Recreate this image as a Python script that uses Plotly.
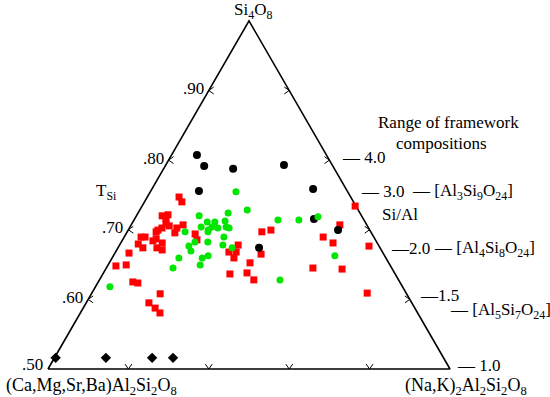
import math
import plotly.graph_objects as go

# ---------------- data (ternary fractions) ----------------
# si = fraction of Si4O8 (apex), na = fraction of (Na,K)2Al2Si2O8 (right corner);
# remainder = (Ca,Mg,Sr,Ba)Al2Si2O8 (left corner)
red_si = [0.494, 0.480, 0.440, 0.443, 0.431, 0.417, 0.411, 0.405, 0.399, 0.394,
          0.405, 0.414, 0.391, 0.388, 0.371, 0.379, 0.379, 0.359, 0.348, 0.368,
          0.374, 0.362, 0.348, 0.342, 0.333, 0.296, 0.299, 0.250, 0.247, 0.216,
          0.190, 0.175, 0.161, 0.356, 0.336, 0.336, 0.319, 0.305, 0.394, 0.399,
          0.330, 0.273, 0.276, 0.256, 0.290, 0.287, 0.362, 0.353, 0.218, 0.468,
          0.414, 0.379]
red_na = [0.079, 0.093, 0.064, 0.077, 0.078, 0.085, 0.096, 0.081, 0.074, 0.072,
          0.118, 0.129, 0.120, 0.172, 0.185, 0.042, 0.052, 0.045, 0.062, 0.077,
          0.082, 0.103, 0.097, 0.113, 0.035, 0.021, 0.045, 0.086, 0.100, 0.171,
          0.156, 0.179, 0.198, 0.295, 0.282, 0.300, 0.303, 0.350, 0.335, 0.355,
          0.365, 0.316, 0.357, 0.384, 0.514, 0.588, 0.528, 0.622, 0.685, 0.530,
          0.519, 0.495]

green_si = [0.509, 0.457, 0.448, 0.440, 0.422, 0.422, 0.425, 0.408, 0.408, 0.399,
            0.405, 0.408, 0.405, 0.394, 0.394, 0.379, 0.365, 0.365, 0.356, 0.353,
            0.339, 0.348, 0.319, 0.319, 0.325, 0.299, 0.290, 0.236, 0.428, 0.428,
            0.437, 0.325, 0.256]
green_na = [0.213, 0.267, 0.224, 0.156, 0.185, 0.204, 0.228, 0.177, 0.204, 0.199,
            0.220, 0.239, 0.248, 0.144, 0.201, 0.248, 0.183, 0.215, 0.257, 0.174,
            0.186, 0.284, 0.166, 0.224, 0.236, 0.229, 0.166, 0.036, 0.358, 0.410,
            0.453, 0.551, 0.449]

black_si = [0.615, 0.583, 0.575, 0.586, 0.511, 0.517, 0.431, 0.399, 0.348]
black_na = [0.063, 0.097, 0.173, 0.294, 0.120, 0.401, 0.446, 0.522, 0.351]

diamond_si = [0.032, 0.032, 0.032, 0.032]
diamond_na = [0.003, 0.128, 0.243, 0.295]

# axis ticks
edge_ticks = [0.2, 0.4, 0.6, 0.8]
tsi_vals = [0.50, 0.60, 0.70, 0.80, 0.90]
tsi_labels = [".50", ".60", ".70", ".80", ".90"]
sial_vals = [4.0, 3.0, 2.0, 1.5, 1.0]
sial_labels = ["4.0", "3.0", "2.0", "1.5", "1.0"]
formula_ratios = [3.0, 2.0, 1.4]
formula_labels = ["[Al<sub>3</sub>Si<sub>9</sub>O<sub>24</sub>]",
                  "[Al<sub>4</sub>Si<sub>8</sub>O<sub>24</sub>]",
                  "[Al<sub>5</sub>Si<sub>7</sub>O<sub>24</sub>]"]

# ---------------- geometry helpers ----------------
H = math.sqrt(3) / 2
S = 402.0          # pixels per unit
X0, Y0 = 48, 369   # pixel position of left corner


def to_xy(si, na):
    return [n + s / 2 for s, n in zip(si, na)], [s * H for s in si]


def px(xp):
    return (xp - X0) / S


def py(yp):
    return (Y0 - yp) / S


FONT = "Liberation Serif"
FS = 17
fig = go.Figure()

# triangle frame
tx, ty = to_xy([0, 0, 1, 0], [0, 1, 0, 0])
fig.add_trace(go.Scatter(x=tx, y=ty, mode="lines",
                         line=dict(color="black", width=1.6), hoverinfo="skip"))

# chevron ticks (pointing outward)
L = 6 / S
ang = math.radians(35)
cx, cy = [], []
for t in edge_ticks:
    # left edge
    x, y = to_xy([t], [0])
    x, y = x[0], y[0]
    cx += [x + L * math.cos(ang), x, x + L * math.cos(ang), None]
    cy += [y + L * math.sin(ang), y, y - L * math.sin(ang), None]
    # right edge
    x, y = to_xy([t], [1 - t])
    x, y = x[0], y[0]
    cx += [x - L * math.cos(ang), x, x - L * math.cos(ang), None]
    cy += [y + L * math.sin(ang), y, y - L * math.sin(ang), None]
    # bottom edge
    x, y = to_xy([0], [t])
    x, y = x[0], y[0]
    cx += [x - L * math.sin(ang), x, x + L * math.sin(ang), None]
    cy += [y + L * math.cos(ang), y, y + L * math.cos(ang), None]
fig.add_trace(go.Scatter(x=cx, y=cy, mode="lines",
                         line=dict(color="black", width=1), hoverinfo="skip"))

# data
x, y = to_xy(red_si, red_na)
fig.add_trace(go.Scatter(x=x, y=y, mode="markers",
                         marker=dict(symbol="square", size=7, color="#ff0000")))
x, y = to_xy(black_si, black_na)
fig.add_trace(go.Scatter(x=x, y=y, mode="markers",
                         marker=dict(symbol="circle", size=8, color="black")))
x, y = to_xy(green_si, green_na)
fig.add_trace(go.Scatter(x=x, y=y, mode="markers",
                         marker=dict(symbol="circle", size=7, color="#00e600")))
x, y = to_xy(diamond_si, diamond_na)
fig.add_trace(go.Scatter(x=x, y=y, mode="markers",
                         marker=dict(symbol="diamond", size=8, color="black")))

ann = []


def add(text, x, y, xanchor="center", yanchor="middle", size=FS, xshift=0, yshift=0):
    ann.append(dict(text=text, x=x, y=y, xref="x", yref="y", showarrow=False,
                    xanchor=xanchor, yanchor=yanchor, xshift=xshift, yshift=yshift,
                    font=dict(family=FONT, size=size, color="black")))


# T_Si labels along left edge
for v, lab in zip(tsi_vals, tsi_labels):
    a = 2 * v - 1
    ex, ey = to_xy([a], [0])
    add(lab, ex[0], ey[0], xanchor="right", xshift=-3,
        yshift=5 if v == 0.5 else 2)

# Si/Al labels along right edge
sial_dx = [11, 9, 6, 8, 5]
sial_dy = [3, 3, 4, 4, 4]
for r, lab, dx, dy in zip(sial_vals, sial_labels, sial_dx, sial_dy):
    a = (r - 1) / (r + 1)
    ex, ey = to_xy([a], [1 - a])
    txt = "\u2014\u00a0" + lab if r not in (2.0, 1.5) else "\u2014" + lab
    add(txt, ex[0], ey[0], xanchor="left", xshift=dx, yshift=dy)

formula_x = [410, 432, 448]
formula_dy = [3, 4, 0]
for r, lab, fx, dy in zip(formula_ratios, formula_labels, formula_x, formula_dy):
    a = (r - 1) / (r + 1)
    ex, ey = to_xy([a], [1 - a])
    add("\u2014\u00a0" + lab, px(fx), ey[0], xanchor="left", yshift=dy)

# corner and axis titles
add("Si<sub>4</sub>O<sub>8</sub>", px(253), py(11))
add("(Ca,Mg,Sr,Ba)Al<sub>2</sub>Si<sub>2</sub>O<sub>8</sub>", px(91), py(386), size=18)
add("(Na,K)<sub>2</sub>Al<sub>2</sub>Si<sub>2</sub>O<sub>8</sub>", px(466), py(386), size=18)
add("T<sub>Si</sub>", px(106), py(192))
add("Si/Al", px(400), py(214))
add("Range of framework", px(448), py(122))
add("compositions", px(441), py(143))

fig.update_layout(
    width=550, height=397,
    margin=dict(l=0, r=0, t=0, b=0, pad=0),
    paper_bgcolor="white", plot_bgcolor="white",
    showlegend=False,
    xaxis=dict(range=[px(0), px(550)], visible=False, fixedrange=True),
    yaxis=dict(range=[py(397), py(0)], visible=False, fixedrange=True),
    annotations=ann,
)

fig.write_html("out.html", config=dict(displayModeBar=False),
               post_script="document.body.style.margin='0px';")
